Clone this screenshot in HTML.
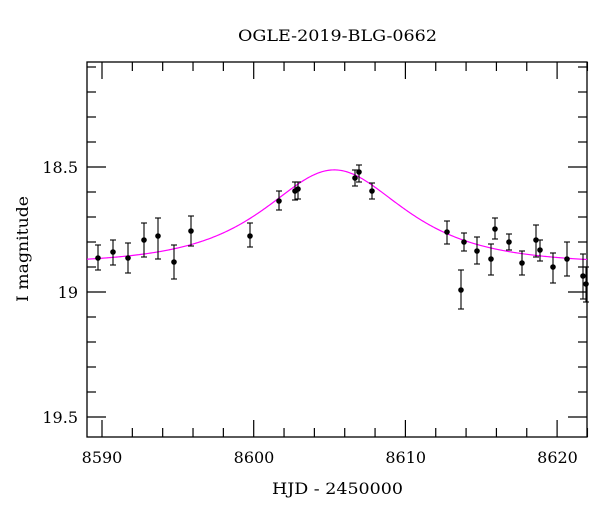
<!DOCTYPE html>
<html><head><style>
html,body{margin:0;padding:0;background:#fff;}
svg text{font-family:"DejaVu Serif","Liberation Serif",serif;fill:#000;}
</style></head><body>
<svg id="s" width="600" height="512" xmlns="http://www.w3.org/2000/svg">
<rect x="87" y="62" width="500" height="375" fill="none" stroke="#000" stroke-width="1.3"/>
<g id="ticks" stroke="#000" stroke-width="1.2"></g>
<path id="curve" fill="none" stroke="#ff00ff" stroke-width="1.2"/>
<g id="pts"></g>
<text x="238" y="41" font-size="16" textLength="199" lengthAdjust="spacingAndGlyphs">OGLE-2019-BLG-0662</text>
<text x="78" y="173" font-size="16" text-anchor="end">18.5</text>
<text x="78" y="298" font-size="16" text-anchor="end">19</text>
<text x="78" y="423" font-size="16" text-anchor="end">19.5</text>
<text x="102" y="463" font-size="16" text-anchor="middle">8590</text>
<text x="254" y="463" font-size="16" text-anchor="middle">8600</text>
<text x="405.7" y="463" font-size="16" text-anchor="middle">8610</text>
<text x="557.5" y="463" font-size="16" text-anchor="middle">8620</text>
<text x="272" y="494" font-size="16" textLength="131" lengthAdjust="spacingAndGlyphs">HJD - 2450000</text>
<text transform="translate(28,302) rotate(-90)" font-size="16" textLength="106" lengthAdjust="spacingAndGlyphs">I magnitude</text>
</svg>
<script>
function X(t){return 102+(t-8590)*15.17;}
function Y(m){return 167+(m-18.5)*250;}
var g=document.getElementById("ticks"),h="";
for(var t=8590;t<=8622;t+=2){var x=X(t),L=((t%10)==0)?17:9;
h+='<line x1="'+x+'" y1="437" x2="'+x+'" y2="'+(437-L)+'"/><line x1="'+x+'" y1="62" x2="'+x+'" y2="'+(62+L)+'"/>';}
for(var k=0;k<16;k++){var m=18.1+k*0.1;var y=Y(m);if(y<63||y>436)continue;var L=(Math.abs(m*2-Math.round(m*2))<1e-6)?19:9;
h+='<line x1="87" y1="'+y+'" x2="'+(87+L)+'" y2="'+y+'"/><line x1="587" y1="'+y+'" x2="'+(587-L)+'" y2="'+y+'"/>';}
g.innerHTML=h;
var d="";for(var x=87;x<=587;x+=1){var t=8589+(x-87)/15.17;var tau=(t-8605.3)/5.8,u0=0.91;var u2=u0*u0+tau*tau;var A=(u2+2)/Math.sqrt(u2*(u2+4));var y=264-250*2.5*Math.log10(A);d+=(x==87?"M":"L")+x+","+y.toFixed(2);}
document.getElementById("curve").setAttribute("d",d);
var P=[[98,258,245,270],[113,252,240,265],[128,258,243,273],[144,240,223,257],[158,236,218,259],[174,262,245,279],[191,231,216,246],[250,236,223,247],[279,201,191,210],[295,191,182,200],[298,189,182,199],[355,178,170,186],[359,172,165,182],[372,191,183,199],[447,232,221,244],[461,290,270,309],[464,242,233,251],[477,251,237,264],[491,259,244,275],[495,229,218,239],[509,242,234,250],[522,263,251,275],[536,240,225,257],[540,250,240,261],[553,267,253,283],[567,259,242,276],[583,276,254,299],[586,284,267,302]];
var s="";P.forEach(function(p){s+='<line x1="'+p[0]+'" y1="'+p[2]+'" x2="'+p[0]+'" y2="'+p[3]+'" stroke="#000" stroke-width="1.1"/><line x1="'+(p[0]-3)+'" y1="'+p[2]+'" x2="'+(p[0]+3)+'" y2="'+p[2]+'" stroke="#000" stroke-width="1.1"/><line x1="'+(p[0]-3)+'" y1="'+p[3]+'" x2="'+(p[0]+3)+'" y2="'+p[3]+'" stroke="#000" stroke-width="1.1"/><circle cx="'+p[0]+'" cy="'+p[1]+'" r="2.8" fill="#000"/>';});
document.getElementById("pts").innerHTML=s;
</script>
</body></html>
